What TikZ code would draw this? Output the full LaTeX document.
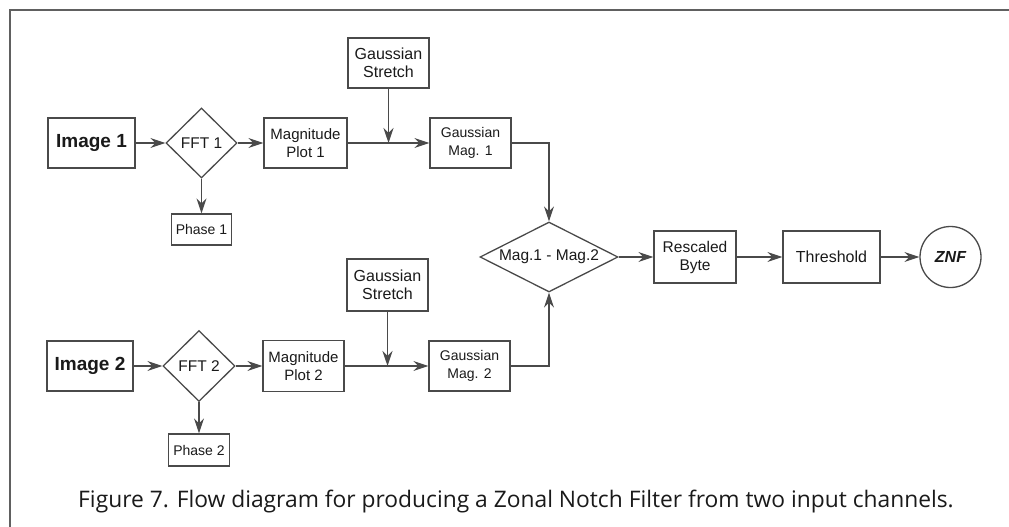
\documentclass[tikz,border=0pt]{standalone}
\usepackage{fontspec}
\setmainfont{Liberation Sans}
\newfontfamily\capfont{Open Sans}
\usetikzlibrary{shapes.geometric,arrows.meta}
\definecolor{ink}{HTML}{1A1A1A}
\definecolor{linec}{HTML}{4A4A4A}
\tikzset{
  box/.style={draw=linec, line width=1.3pt, rectangle, inner sep=0pt, text=ink,
     align=center, font=\fontsize{15}{17.5}\selectfont},
  dia/.style={draw=linec, line width=1.3pt, diamond, inner sep=0pt, text=ink,
     font=\fontsize{15.5}{18}\selectfont},
  flow/.style={draw=linec, line width=1.3pt, -{Stealth[length=15pt,width=10pt,inset=5pt]}}
}
\begin{document}
\begin{tikzpicture}[x=1pt,y=-1pt]
\useasboundingbox (0,0) rectangle (1009,527);
\fill[white] (0,0) rectangle (1009,527);
\draw[draw=gray!75!black, line width=2pt] (1009,10) -- (10,10) -- (10,527);

% Row 1
\node[box, minimum width=87, minimum height=50, font=\fontsize{19}{21}\bfseries] (img1) at (91.5,143) {Image 1};
\node[dia, minimum width=71, minimum height=70] (fft1) at (201.5,143) {\makebox[0pt]{FFT 1}};
\node[box, minimum width=83, minimum height=50] (mag1) at (305.5,143) {Magnitude\\Plot 1};
\node[box, minimum width=81, minimum height=50, font=\fontsize{16}{18.5}\selectfont] (gs1) at (388.5,63) {Gaussian\\Stretch};
\node[box, minimum width=81, minimum height=50, font=\fontsize{14}{17.5}\selectfont] (gm1) at (470.5,143) {Gaussian\\Mag. 1};
\node[box, minimum width=60, minimum height=31, font=\fontsize{14}{16}\selectfont] (ph1) at (201.5,229.5) {Phase 1};
\coordinate (j1) at (388.5,143);

% Row 2
\node[box, minimum width=86, minimum height=50, font=\fontsize{19}{21}\bfseries] (img2) at (90,366) {Image 2};
\node[dia, minimum width=72, minimum height=71] (fft2) at (199,366) {\makebox[0pt]{FFT 2}};
\node[box, minimum width=81, minimum height=51] (mag2) at (303.5,366) {Magnitude\\Plot 2};
\node[box, minimum width=81, minimum height=52, font=\fontsize{16}{18.5}\selectfont] (gs2) at (387.5,285) {Gaussian\\Stretch};
\node[box, minimum width=81, minimum height=50, font=\fontsize{14}{17.5}\selectfont] (gm2) at (469.5,366) {Gaussian\\Mag. 2};
\node[box, minimum width=61, minimum height=32, font=\fontsize{14}{16}\selectfont] (ph2) at (199,450) {Phase 2};
\coordinate (j2) at (387.5,366);

% Middle
\node[dia, minimum width=138, minimum height=70] (diff) at (549,257) {\makebox[0pt]{Mag.1 - Mag.2}};
\node[box, minimum width=82, minimum height=52, font=\fontsize{15.5}{18}\selectfont] (resc) at (695,257) {Rescaled\\Byte};
\node[box, minimum width=97, minimum height=52, font=\fontsize{16}{18}\selectfont] (thr) at (831.5,257) {Threshold};
\node[draw=linec, line width=1.3pt, circle, minimum size=61, inner sep=0pt, text=ink,
      font=\fontsize{16}{18}\bfseries\itshape] (znf) at (950.5,257) {ZNF};

% Connectors row 1
\draw[flow] (img1.east) -- (fft1.west);
\draw[flow] (fft1.east) -- (mag1.west);
\draw[flow] (mag1.east) -- (gm1.west);
\draw[flow] (gs1.south) -- (j1);
\draw[flow] (fft1.south) -- (ph1.north);
% Connectors row 2
\draw[flow] (img2.east) -- (fft2.west);
\draw[flow] (fft2.east) -- (mag2.west);
\draw[flow] (mag2.east) -- (gm2.west);
\draw[flow] (gs2.south) -- (j2);
\draw[flow] (fft2.south) -- (ph2.north);
% Merge
\draw[flow] (gm1.east) -| (diff.north);
\draw[flow] (gm2.east) -| (diff.south);
\draw[flow] (diff.east) -- (resc.west);
\draw[flow] (resc.east) -- (thr.west);
\draw[flow] (thr.east) -- (znf.west);

% Caption
\node[anchor=base, text=ink, font=\capfont\fontsize{22.8}{26}\selectfont, inner sep=0pt] (cap) at (516,507)
  {Figure 7. Flow diagram for producing a Zonal Notch Filter from two input channels.};
\end{tikzpicture}
\end{document}
